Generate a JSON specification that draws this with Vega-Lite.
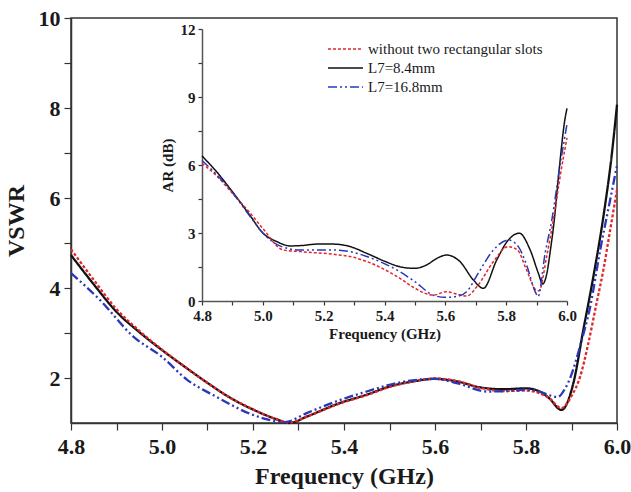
{
  "$schema": "https://vega.github.io/schema/vega-lite/v6.json",
  "width": 546,
  "height": 405,
  "autosize": {"type": "none"},
  "padding": {"left": 71, "top": 18, "right": 14, "bottom": 69},
  "background": "white",
  "config": {
    "font": "Liberation Serif",
    "view": {"stroke": "#333", "strokeWidth": 1.5},
    "axis": {"grid": false, "domainColor": "#333", "domainWidth": 1.5, "tickColor": "#333", "tickWidth": 1.2, "labelColor": "#1a1a1a", "titleColor": "#1a1a1a", "labelFont": "Liberation Serif", "titleFont": "Liberation Serif"}
  },
  "datasets": {
    "main": [
      {"series": "L7=8.4mm", "f": 4.80, "v": 4.73},
      {"series": "L7=8.4mm", "f": 4.85, "v": 4.08},
      {"series": "L7=8.4mm", "f": 4.90, "v": 3.47},
      {"series": "L7=8.4mm", "f": 4.95, "v": 3.02},
      {"series": "L7=8.4mm", "f": 5.00, "v": 2.62},
      {"series": "L7=8.4mm", "f": 5.05, "v": 2.25},
      {"series": "L7=8.4mm", "f": 5.10, "v": 1.89},
      {"series": "L7=8.4mm", "f": 5.15, "v": 1.56},
      {"series": "L7=8.4mm", "f": 5.20, "v": 1.30},
      {"series": "L7=8.4mm", "f": 5.25, "v": 1.09},
      {"series": "L7=8.4mm", "f": 5.28, "v": 1.00},
      {"series": "L7=8.4mm", "f": 5.32, "v": 1.15},
      {"series": "L7=8.4mm", "f": 5.39, "v": 1.44},
      {"series": "L7=8.4mm", "f": 5.45, "v": 1.63},
      {"series": "L7=8.4mm", "f": 5.50, "v": 1.81},
      {"series": "L7=8.4mm", "f": 5.55, "v": 1.92},
      {"series": "L7=8.4mm", "f": 5.60, "v": 1.98},
      {"series": "L7=8.4mm", "f": 5.65, "v": 1.92},
      {"series": "L7=8.4mm", "f": 5.70, "v": 1.79},
      {"series": "L7=8.4mm", "f": 5.75, "v": 1.75},
      {"series": "L7=8.4mm", "f": 5.80, "v": 1.77},
      {"series": "L7=8.4mm", "f": 5.83, "v": 1.70},
      {"series": "L7=8.4mm", "f": 5.85, "v": 1.56},
      {"series": "L7=8.4mm", "f": 5.878, "v": 1.29},
      {"series": "L7=8.4mm", "f": 5.904, "v": 1.88},
      {"series": "L7=8.4mm", "f": 5.926, "v": 3.07},
      {"series": "L7=8.4mm", "f": 5.948, "v": 4.25},
      {"series": "L7=8.4mm", "f": 5.970, "v": 5.58},
      {"series": "L7=8.4mm", "f": 5.988, "v": 6.92},
      {"series": "L7=8.4mm", "f": 6.00, "v": 8.07},

      {"series": "without two rectangular slots", "f": 4.80, "v": 4.86},
      {"series": "without two rectangular slots", "f": 4.85, "v": 4.18},
      {"series": "without two rectangular slots", "f": 4.90, "v": 3.53},
      {"series": "without two rectangular slots", "f": 4.95, "v": 3.05},
      {"series": "without two rectangular slots", "f": 5.00, "v": 2.63},
      {"series": "without two rectangular slots", "f": 5.05, "v": 2.25},
      {"series": "without two rectangular slots", "f": 5.10, "v": 1.89},
      {"series": "without two rectangular slots", "f": 5.15, "v": 1.56},
      {"series": "without two rectangular slots", "f": 5.20, "v": 1.30},
      {"series": "without two rectangular slots", "f": 5.25, "v": 1.09},
      {"series": "without two rectangular slots", "f": 5.28, "v": 1.01},
      {"series": "without two rectangular slots", "f": 5.32, "v": 1.15},
      {"series": "without two rectangular slots", "f": 5.39, "v": 1.43},
      {"series": "without two rectangular slots", "f": 5.45, "v": 1.62},
      {"series": "without two rectangular slots", "f": 5.50, "v": 1.80},
      {"series": "without two rectangular slots", "f": 5.55, "v": 1.92},
      {"series": "without two rectangular slots", "f": 5.60, "v": 1.99},
      {"series": "without two rectangular slots", "f": 5.65, "v": 1.93},
      {"series": "without two rectangular slots", "f": 5.70, "v": 1.78},
      {"series": "without two rectangular slots", "f": 5.75, "v": 1.71},
      {"series": "without two rectangular slots", "f": 5.80, "v": 1.72},
      {"series": "without two rectangular slots", "f": 5.83, "v": 1.66},
      {"series": "without two rectangular slots", "f": 5.85, "v": 1.56},
      {"series": "without two rectangular slots", "f": 5.878, "v": 1.33},
      {"series": "without two rectangular slots", "f": 5.90, "v": 1.60},
      {"series": "without two rectangular slots", "f": 5.919, "v": 2.03},
      {"series": "without two rectangular slots", "f": 5.937, "v": 2.77},
      {"series": "without two rectangular slots", "f": 5.955, "v": 3.66},
      {"series": "without two rectangular slots", "f": 5.970, "v": 4.40},
      {"series": "without two rectangular slots", "f": 5.985, "v": 5.29},
      {"series": "without two rectangular slots", "f": 6.00, "v": 6.18},

      {"series": "L7=16.8mm", "f": 4.80, "v": 4.33},
      {"series": "L7=16.8mm", "f": 4.864, "v": 3.73},
      {"series": "L7=16.8mm", "f": 4.937, "v": 2.92},
      {"series": "L7=16.8mm", "f": 5.00, "v": 2.47},
      {"series": "L7=16.8mm", "f": 5.054, "v": 1.97},
      {"series": "L7=16.8mm", "f": 5.12, "v": 1.58},
      {"series": "L7=16.8mm", "f": 5.20, "v": 1.18},
      {"series": "L7=16.8mm", "f": 5.245, "v": 1.05},
      {"series": "L7=16.8mm", "f": 5.27, "v": 1.02},
      {"series": "L7=16.8mm", "f": 5.318, "v": 1.22},
      {"series": "L7=16.8mm", "f": 5.391, "v": 1.51},
      {"series": "L7=16.8mm", "f": 5.45, "v": 1.70},
      {"series": "L7=16.8mm", "f": 5.50, "v": 1.85},
      {"series": "L7=16.8mm", "f": 5.56, "v": 1.96},
      {"series": "L7=16.8mm", "f": 5.60, "v": 1.98},
      {"series": "L7=16.8mm", "f": 5.65, "v": 1.88},
      {"series": "L7=16.8mm", "f": 5.714, "v": 1.70},
      {"series": "L7=16.8mm", "f": 5.76, "v": 1.71},
      {"series": "L7=16.8mm", "f": 5.80, "v": 1.74},
      {"series": "L7=16.8mm", "f": 5.83, "v": 1.70},
      {"series": "L7=16.8mm", "f": 5.85, "v": 1.62},
      {"series": "L7=16.8mm", "f": 5.87, "v": 1.58},
      {"series": "L7=16.8mm", "f": 5.885, "v": 1.75},
      {"series": "L7=16.8mm", "f": 5.897, "v": 2.00},
      {"series": "L7=16.8mm", "f": 5.92, "v": 2.75},
      {"series": "L7=16.8mm", "f": 5.941, "v": 3.58},
      {"series": "L7=16.8mm", "f": 5.963, "v": 4.84},
      {"series": "L7=16.8mm", "f": 5.985, "v": 5.96},
      {"series": "L7=16.8mm", "f": 6.00, "v": 6.73}
    ],
    "inset": [
      {"series": "L7=8.4mm", "f": 4.80, "v": 6.40},
      {"series": "L7=8.4mm", "f": 4.848, "v": 5.70},
      {"series": "L7=8.4mm", "f": 4.90, "v": 4.82},
      {"series": "L7=8.4mm", "f": 4.957, "v": 3.79},
      {"series": "L7=8.4mm", "f": 5.00, "v": 3.00},
      {"series": "L7=8.4mm", "f": 5.046, "v": 2.62},
      {"series": "L7=8.4mm", "f": 5.09, "v": 2.43},
      {"series": "L7=8.4mm", "f": 5.13, "v": 2.45},
      {"series": "L7=8.4mm", "f": 5.178, "v": 2.51},
      {"series": "L7=8.4mm", "f": 5.232, "v": 2.51},
      {"series": "L7=8.4mm", "f": 5.287, "v": 2.40},
      {"series": "L7=8.4mm", "f": 5.342, "v": 2.10},
      {"series": "L7=8.4mm", "f": 5.403, "v": 1.74},
      {"series": "L7=8.4mm", "f": 5.451, "v": 1.51},
      {"series": "L7=8.4mm", "f": 5.50, "v": 1.44},
      {"series": "L7=8.4mm", "f": 5.538, "v": 1.59},
      {"series": "L7=8.4mm", "f": 5.575, "v": 1.90},
      {"series": "L7=8.4mm", "f": 5.604, "v": 2.03},
      {"series": "L7=8.4mm", "f": 5.648, "v": 1.74},
      {"series": "L7=8.4mm", "f": 5.692, "v": 0.93},
      {"series": "L7=8.4mm", "f": 5.725, "v": 0.56},
      {"series": "L7=8.4mm", "f": 5.769, "v": 1.81},
      {"series": "L7=8.4mm", "f": 5.807, "v": 2.69},
      {"series": "L7=8.4mm", "f": 5.843, "v": 2.99},
      {"series": "L7=8.4mm", "f": 5.879, "v": 2.25},
      {"series": "L7=8.4mm", "f": 5.906, "v": 1.22},
      {"series": "L7=8.4mm", "f": 5.920, "v": 0.75},
      {"series": "L7=8.4mm", "f": 5.935, "v": 1.30},
      {"series": "L7=8.4mm", "f": 5.945, "v": 2.20},
      {"series": "L7=8.4mm", "f": 5.957, "v": 3.43},
      {"series": "L7=8.4mm", "f": 5.973, "v": 5.63},
      {"series": "L7=8.4mm", "f": 5.993, "v": 8.00},
      {"series": "L7=8.4mm", "f": 6.00, "v": 8.50},

      {"series": "without two rectangular slots", "f": 4.80, "v": 6.07},
      {"series": "without two rectangular slots", "f": 4.85, "v": 5.50},
      {"series": "without two rectangular slots", "f": 4.90, "v": 4.75},
      {"series": "without two rectangular slots", "f": 4.957, "v": 3.90},
      {"series": "without two rectangular slots", "f": 5.00, "v": 3.20},
      {"series": "without two rectangular slots", "f": 5.067, "v": 2.25},
      {"series": "without two rectangular slots", "f": 5.122, "v": 2.18},
      {"series": "without two rectangular slots", "f": 5.232, "v": 2.06},
      {"series": "without two rectangular slots", "f": 5.287, "v": 1.96},
      {"series": "without two rectangular slots", "f": 5.342, "v": 1.74},
      {"series": "without two rectangular slots", "f": 5.403, "v": 1.37},
      {"series": "without two rectangular slots", "f": 5.451, "v": 1.00},
      {"series": "without two rectangular slots", "f": 5.50, "v": 0.56},
      {"series": "without two rectangular slots", "f": 5.56, "v": 0.26},
      {"series": "without two rectangular slots", "f": 5.604, "v": 0.41},
      {"series": "without two rectangular slots", "f": 5.637, "v": 0.31},
      {"series": "without two rectangular slots", "f": 5.670, "v": 0.22},
      {"series": "without two rectangular slots", "f": 5.708, "v": 0.71},
      {"series": "without two rectangular slots", "f": 5.758, "v": 1.74},
      {"series": "without two rectangular slots", "f": 5.807, "v": 2.40},
      {"series": "without two rectangular slots", "f": 5.837, "v": 2.25},
      {"series": "without two rectangular slots", "f": 5.867, "v": 1.37},
      {"series": "without two rectangular slots", "f": 5.898, "v": 0.49},
      {"series": "without two rectangular slots", "f": 5.908, "v": 0.45},
      {"series": "without two rectangular slots", "f": 5.933, "v": 1.95},
      {"series": "without two rectangular slots", "f": 5.955, "v": 3.57},
      {"series": "without two rectangular slots", "f": 5.980, "v": 5.70},
      {"series": "without two rectangular slots", "f": 6.00, "v": 7.20},

      {"series": "L7=16.8mm", "f": 4.80, "v": 6.20},
      {"series": "L7=16.8mm", "f": 4.85, "v": 5.55},
      {"series": "L7=16.8mm", "f": 4.90, "v": 4.78},
      {"series": "L7=16.8mm", "f": 4.957, "v": 3.75},
      {"series": "L7=16.8mm", "f": 5.00, "v": 3.00},
      {"series": "L7=16.8mm", "f": 5.056, "v": 2.43},
      {"series": "L7=16.8mm", "f": 5.122, "v": 2.25},
      {"series": "L7=16.8mm", "f": 5.232, "v": 2.25},
      {"series": "L7=16.8mm", "f": 5.287, "v": 2.18},
      {"series": "L7=16.8mm", "f": 5.342, "v": 1.96},
      {"series": "L7=16.8mm", "f": 5.403, "v": 1.63},
      {"series": "L7=16.8mm", "f": 5.451, "v": 1.29},
      {"series": "L7=16.8mm", "f": 5.50, "v": 0.85},
      {"series": "L7=16.8mm", "f": 5.56, "v": 0.26},
      {"series": "L7=16.8mm", "f": 5.599, "v": 0.16},
      {"series": "L7=16.8mm", "f": 5.637, "v": 0.20},
      {"series": "L7=16.8mm", "f": 5.670, "v": 0.41},
      {"series": "L7=16.8mm", "f": 5.708, "v": 1.22},
      {"series": "L7=16.8mm", "f": 5.758, "v": 2.25},
      {"series": "L7=16.8mm", "f": 5.807, "v": 2.69},
      {"series": "L7=16.8mm", "f": 5.840, "v": 2.40},
      {"series": "L7=16.8mm", "f": 5.867, "v": 1.59},
      {"series": "L7=16.8mm", "f": 5.898, "v": 0.34},
      {"series": "L7=16.8mm", "f": 5.905, "v": 0.20},
      {"series": "L7=16.8mm", "f": 5.928, "v": 2.10},
      {"series": "L7=16.8mm", "f": 5.950, "v": 3.57},
      {"series": "L7=16.8mm", "f": 5.975, "v": 5.80},
      {"series": "L7=16.8mm", "f": 6.00, "v": 7.80}
    ]
  },
  "layer": [
    {
      "layer": [
        {
          "data": {"name": "main"},
          "mark": {"type": "line", "interpolate": "monotone", "strokeWidth": 2.3},
          "encoding": {
            "x": {"field": "f", "type": "quantitative",
              "scale": {"domain": [4.8, 6.0], "nice": false, "zero": false},
              "axis": {"values": [4.8, 4.9, 5.0, 5.1, 5.2, 5.3, 5.4, 5.5, 5.6, 5.7, 5.8, 5.9, 6.0],
                "labelExpr": "round(datum.value*10) % 2 == 0 ? format(datum.value, '.1f') : ''",
                "title": "Frequency (GHz)", "labelFontSize": 22, "labelFontWeight": "bold",
                "titleFontSize": 24, "titleFontWeight": "bold", "tickSize": 7, "labelPadding": 6, "titlePadding": 7, "labelFlush": false}},
            "y": {"field": "v", "type": "quantitative",
              "scale": {"domain": [1, 10], "nice": false, "zero": false},
              "axis": {"values": [2, 3, 4, 5, 6, 7, 8, 9, 10],
                "labelExpr": "datum.value % 2 == 0 ? datum.value : ''",
                "title": "VSWR", "labelFontSize": 22, "labelFontWeight": "bold",
                "titleFontSize": 24, "titleFontWeight": "bold", "tickSize": 7, "labelPadding": 4, "titlePadding": 10, "labelFlush": false}},
            "color": {"field": "series", "type": "nominal",
              "scale": {"domain": ["without two rectangular slots", "L7=8.4mm", "L7=16.8mm"], "range": ["#e3262b", "#111111", "#2a38b8"]},
              "legend": {"orient": "none", "legendX": 256, "legendY": 23, "title": null, "symbolType": "stroke", "symbolSize": 1225, "symbolStrokeWidth": 1.5, "labelFontSize": 15, "labelFont": "Liberation Serif", "labelColor": "#1a1a1a", "labelOffset": 4, "labelLimit": 400, "clipHeight": 16, "rowPadding": 3, "padding": 0}},
            "strokeDash": {"field": "series", "type": "nominal",
              "scale": {"domain": ["without two rectangular slots", "L7=8.4mm", "L7=16.8mm"], "range": [[3, 2], [1, 0], [9, 3, 2, 3, 2, 3]]},
              "legend": {"orient": "none", "legendX": 256, "legendY": 23, "title": null, "symbolType": "stroke", "symbolSize": 1225, "symbolStrokeWidth": 1.5, "labelFontSize": 15, "labelFont": "Liberation Serif", "labelColor": "#1a1a1a", "labelOffset": 4, "labelLimit": 400, "clipHeight": 16, "rowPadding": 3, "padding": 0}}
          }
        },
        {
          "mark": {"type": "rule", "strokeDash": [6, 4], "color": "#333", "strokeWidth": 1.2},
          "encoding": {"y": {"datum": 2}}
        }
      ]
    },
    {
      "layer": [
        {
          "mark": {"type": "rect", "fill": "white", "stroke": "#555", "strokeWidth": 1.5},
          "encoding": {
            "x": {"datum": 4.8, "type": "quantitative",
              "scale": {"domain": [4.8, 6.0], "range": [131, 496], "nice": false, "zero": false},
              "axis": {"orient": "bottom", "offset": -122,
                "values": [4.8, 4.9, 5.0, 5.1, 5.2, 5.3, 5.4, 5.5, 5.6, 5.7, 5.8, 5.9, 6.0],
                "labelExpr": "round(datum.value*10) % 2 == 0 ? format(datum.value, '.1f') : ''",
                "title": "Frequency (GHz)", "labelFontSize": 15, "labelFontWeight": "bold",
                "titleFontSize": 15, "titleFontWeight": "bold", "tickSize": 4, "labelPadding": 3, "titlePadding": 3, "labelFlush": false, "domainColor": "#555"}},
            "x2": {"datum": 6.0},
            "y": {"datum": 0, "type": "quantitative",
              "scale": {"domain": [0, 12], "range": [283, 11], "nice": false, "zero": false},
              "axis": {"orient": "left", "offset": -131,
                "values": [0, 1.5, 3, 4.5, 6, 7.5, 9, 10.5, 12],
                "labelExpr": "datum.value % 3 == 0 ? datum.value : ''",
                "title": "AR (dB)", "labelFontSize": 15, "labelFontWeight": "bold",
                "titleFontSize": 15, "titleFontWeight": "bold", "tickSize": 4, "labelPadding": 3, "titlePadding": 5, "labelFlush": false, "domainColor": "#555"}},
            "y2": {"datum": 12}
          }
        },
        {
          "mark": {"type": "rule", "strokeDash": [4, 3], "color": "#777", "strokeWidth": 1.2},
          "encoding": {"x": {"datum": 4.8}, "x2": {"datum": 6.0}, "y": {"datum": 3}}
        },
        {
          "data": {"name": "inset"},
          "mark": {"type": "line", "interpolate": "monotone", "strokeWidth": 1.5},
          "encoding": {
            "x": {"field": "f", "type": "quantitative"},
            "y": {"field": "v", "type": "quantitative"},
            "color": {"field": "series", "type": "nominal"},
            "strokeDash": {"field": "series", "type": "nominal"}
          }
        }
      ]
    }
  ],
  "resolve": {"scale": {"x": "independent", "y": "independent"}, "axis": {"x": "independent", "y": "independent"}}
}
